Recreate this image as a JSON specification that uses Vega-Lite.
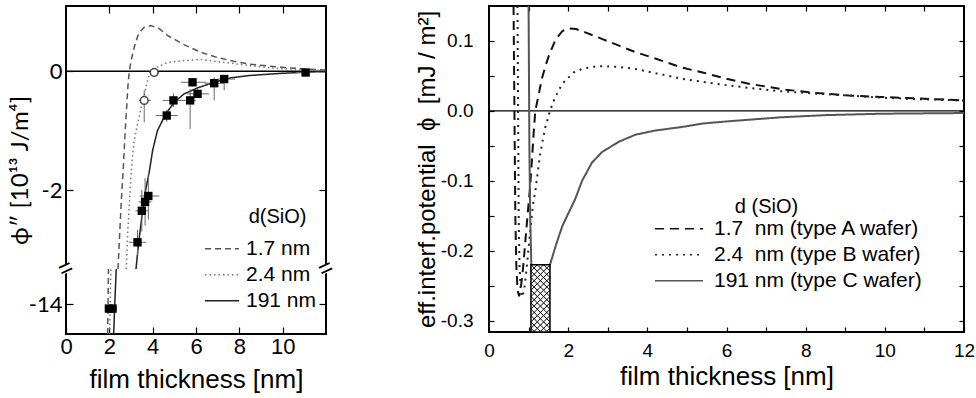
{
  "$schema": "https://vega.github.io/schema/vega-lite/v6.json",
  "background": "white",
  "padding": {"left": 7, "top": 4, "right": 4, "bottom": 0},
  "spacing": 75,
  "config": {
    "font": "Liberation Sans",
    "view": {"stroke": "black", "strokeWidth": 2},
    "axis": {"grid": false, "domain": false, "tickColor": "black", "tickWidth": 1.2, "labelColor": "black", "titleColor": "black", "titleFontWeight": "normal", "labelFlush": false, "labelOverlap": false, "labelFont": "Liberation Sans", "titleFont": "Liberation Sans"}
  },
  "resolve": {"scale": {"strokeDash": "independent", "color": "independent"}, "legend": {"strokeDash": "independent", "color": "independent"}},
  "datasets": {
    "leftCurves": [
      {"series": "1.7 nm", "part": "low", "x": 1.92, "y": -14.5},
      {"series": "1.7 nm", "part": "low", "x": 1.94, "y": -14.0},
      {"series": "1.7 nm", "part": "low", "x": 1.96, "y": -13.4},
      {"series": "1.7 nm", "part": "up", "x": 2.4, "y": -3.33},
      {"series": "1.7 nm", "part": "up", "x": 2.47, "y": -2.8},
      {"series": "1.7 nm", "part": "up", "x": 2.55, "y": -2.2},
      {"series": "1.7 nm", "part": "up", "x": 2.65, "y": -1.6},
      {"series": "1.7 nm", "part": "up", "x": 2.72, "y": -1.08},
      {"series": "1.7 nm", "part": "up", "x": 2.8, "y": -0.6},
      {"series": "1.7 nm", "part": "up", "x": 2.86, "y": -0.24},
      {"series": "1.7 nm", "part": "up", "x": 2.92, "y": 0.0},
      {"series": "1.7 nm", "part": "up", "x": 3.0, "y": 0.17},
      {"series": "1.7 nm", "part": "up", "x": 3.09, "y": 0.32},
      {"series": "1.7 nm", "part": "up", "x": 3.2, "y": 0.47},
      {"series": "1.7 nm", "part": "up", "x": 3.32, "y": 0.6},
      {"series": "1.7 nm", "part": "up", "x": 3.45, "y": 0.68},
      {"series": "1.7 nm", "part": "up", "x": 3.6, "y": 0.74},
      {"series": "1.7 nm", "part": "up", "x": 3.92, "y": 0.77},
      {"series": "1.7 nm", "part": "up", "x": 4.3, "y": 0.72},
      {"series": "1.7 nm", "part": "up", "x": 4.7, "y": 0.6},
      {"series": "1.7 nm", "part": "up", "x": 5.44, "y": 0.45},
      {"series": "1.7 nm", "part": "up", "x": 6.22, "y": 0.32},
      {"series": "1.7 nm", "part": "up", "x": 7.0, "y": 0.23},
      {"series": "1.7 nm", "part": "up", "x": 7.74, "y": 0.17},
      {"series": "1.7 nm", "part": "up", "x": 8.5, "y": 0.12},
      {"series": "1.7 nm", "part": "up", "x": 9.3, "y": 0.09},
      {"series": "1.7 nm", "part": "up", "x": 10.2, "y": 0.06},
      {"series": "1.7 nm", "part": "up", "x": 11.0, "y": 0.04},
      {"series": "1.7 nm", "part": "up", "x": 12.0, "y": 0.02},
      {"series": "2.4 nm", "part": "low", "x": 2.02, "y": -14.5},
      {"series": "2.4 nm", "part": "low", "x": 2.04, "y": -14.0},
      {"series": "2.4 nm", "part": "low", "x": 2.07, "y": -13.4},
      {"series": "2.4 nm", "part": "up", "x": 2.78, "y": -3.33},
      {"series": "2.4 nm", "part": "up", "x": 2.85, "y": -2.7},
      {"series": "2.4 nm", "part": "up", "x": 2.93, "y": -2.2},
      {"series": "2.4 nm", "part": "up", "x": 3.0, "y": -1.75},
      {"series": "2.4 nm", "part": "up", "x": 3.08, "y": -1.4},
      {"series": "2.4 nm", "part": "up", "x": 3.15, "y": -1.16},
      {"series": "2.4 nm", "part": "up", "x": 3.3, "y": -0.89},
      {"series": "2.4 nm", "part": "up", "x": 3.46, "y": -0.62},
      {"series": "2.4 nm", "part": "up", "x": 3.6, "y": -0.42},
      {"series": "2.4 nm", "part": "up", "x": 3.72, "y": -0.22},
      {"series": "2.4 nm", "part": "up", "x": 3.84, "y": -0.06},
      {"series": "2.4 nm", "part": "up", "x": 3.97, "y": 0.0},
      {"series": "2.4 nm", "part": "up", "x": 4.22, "y": 0.07},
      {"series": "2.4 nm", "part": "up", "x": 4.69, "y": 0.15},
      {"series": "2.4 nm", "part": "up", "x": 5.45, "y": 0.18},
      {"series": "2.4 nm", "part": "up", "x": 6.22, "y": 0.2},
      {"series": "2.4 nm", "part": "up", "x": 6.84, "y": 0.17},
      {"series": "2.4 nm", "part": "up", "x": 7.75, "y": 0.13},
      {"series": "2.4 nm", "part": "up", "x": 8.37, "y": 0.1},
      {"series": "2.4 nm", "part": "up", "x": 9.1, "y": 0.07},
      {"series": "2.4 nm", "part": "up", "x": 9.9, "y": 0.045},
      {"series": "2.4 nm", "part": "up", "x": 10.8, "y": 0.03},
      {"series": "2.4 nm", "part": "up", "x": 12.0, "y": 0.01},
      {"series": "191 nm", "part": "low", "x": 2.2, "y": -14.5},
      {"series": "191 nm", "part": "low", "x": 2.25, "y": -14.0},
      {"series": "191 nm", "part": "low", "x": 2.32, "y": -13.4},
      {"series": "191 nm", "part": "up", "x": 3.23, "y": -3.33},
      {"series": "191 nm", "part": "up", "x": 3.35, "y": -2.9},
      {"series": "191 nm", "part": "up", "x": 3.5, "y": -2.45},
      {"series": "191 nm", "part": "up", "x": 3.65, "y": -2.05},
      {"series": "191 nm", "part": "up", "x": 3.84, "y": -1.7},
      {"series": "191 nm", "part": "up", "x": 4.0, "y": -1.33},
      {"series": "191 nm", "part": "up", "x": 4.22, "y": -1.0},
      {"series": "191 nm", "part": "up", "x": 4.6, "y": -0.72},
      {"series": "191 nm", "part": "up", "x": 5.0, "y": -0.52},
      {"series": "191 nm", "part": "up", "x": 5.45, "y": -0.38},
      {"series": "191 nm", "part": "up", "x": 6.07, "y": -0.28},
      {"series": "191 nm", "part": "up", "x": 6.84, "y": -0.185},
      {"series": "191 nm", "part": "up", "x": 7.6, "y": -0.11},
      {"series": "191 nm", "part": "up", "x": 8.5, "y": -0.07},
      {"series": "191 nm", "part": "up", "x": 9.9, "y": -0.035},
      {"series": "191 nm", "part": "up", "x": 11.4, "y": -0.01},
      {"series": "191 nm", "part": "up", "x": 12.0, "y": -0.005}
    ],
    "leftPoints": [
      {"kind": "filled", "x": 1.98, "y": -14.07, "xlo": 1.8, "xhi": 2.1, "ylo": -14.07, "yhi": -14.07},
      {"kind": "filled", "x": 2.15, "y": -14.07, "xlo": 2.0, "xhi": 2.35, "ylo": -14.07, "yhi": -14.07},
      {"kind": "filled", "x": 3.3, "y": -2.88, "xlo": 2.9, "xhi": 3.7, "ylo": -3.1, "yhi": -2.67},
      {"kind": "filled", "x": 3.5, "y": -2.35, "xlo": 3.2, "xhi": 3.8, "ylo": -2.7, "yhi": -2.0},
      {"kind": "filled", "x": 3.65, "y": -2.2, "xlo": 3.35, "xhi": 3.95, "ylo": -2.6, "yhi": -1.8},
      {"kind": "filled", "x": 3.8, "y": -2.1, "xlo": 3.4, "xhi": 4.3, "ylo": -2.5, "yhi": -1.72},
      {"kind": "filled", "x": 4.65, "y": -0.745, "xlo": 4.15, "xhi": 5.15, "ylo": -0.85, "yhi": -0.65},
      {"kind": "filled", "x": 4.96, "y": -0.49, "xlo": 4.46, "xhi": 5.5, "ylo": -0.6, "yhi": -0.37},
      {"kind": "filled", "x": 5.73, "y": -0.49, "xlo": 5.5, "xhi": 6.0, "ylo": -0.97, "yhi": -0.3},
      {"kind": "filled", "x": 6.07, "y": -0.38, "xlo": 5.6, "xhi": 6.6, "ylo": -0.45, "yhi": -0.3},
      {"kind": "filled", "x": 5.84, "y": -0.185, "xlo": 5.3, "xhi": 6.45, "ylo": -0.25, "yhi": -0.12},
      {"kind": "filled", "x": 6.84, "y": -0.2, "xlo": 6.4, "xhi": 7.3, "ylo": -0.49, "yhi": -0.1},
      {"kind": "filled", "x": 7.3, "y": -0.13, "xlo": 7.0, "xhi": 7.8, "ylo": -0.32, "yhi": -0.08},
      {"kind": "filled", "x": 11.06, "y": -0.02, "xlo": 10.6, "xhi": 11.5, "ylo": -0.06, "yhi": 0.02},
      {"kind": "open", "x": 4.07, "y": -0.02, "xlo": 3.85, "xhi": 4.3, "ylo": -0.08, "yhi": 0.04},
      {"kind": "open", "x": 3.61, "y": -0.49, "xlo": 3.36, "xhi": 3.92, "ylo": -0.86, "yhi": -0.32}
    ],
    "rightCurves": [
      {"series": "1.7\u00a0 nm (type A wafer)", "x": 0.62, "y": 0.15},
      {"series": "1.7\u00a0 nm (type A wafer)", "x": 0.635, "y": 0.05},
      {"series": "1.7\u00a0 nm (type A wafer)", "x": 0.65, "y": -0.05},
      {"series": "1.7\u00a0 nm (type A wafer)", "x": 0.665, "y": -0.15},
      {"series": "1.7\u00a0 nm (type A wafer)", "x": 0.69, "y": -0.22},
      {"series": "1.7\u00a0 nm (type A wafer)", "x": 0.72, "y": -0.255},
      {"series": "1.7\u00a0 nm (type A wafer)", "x": 0.76, "y": -0.265},
      {"series": "1.7\u00a0 nm (type A wafer)", "x": 0.8, "y": -0.255},
      {"series": "1.7\u00a0 nm (type A wafer)", "x": 0.86, "y": -0.225},
      {"series": "1.7\u00a0 nm (type A wafer)", "x": 0.92, "y": -0.185},
      {"series": "1.7\u00a0 nm (type A wafer)", "x": 0.98, "y": -0.145},
      {"series": "1.7\u00a0 nm (type A wafer)", "x": 1.04, "y": -0.108},
      {"series": "1.7\u00a0 nm (type A wafer)", "x": 1.09, "y": -0.065},
      {"series": "1.7\u00a0 nm (type A wafer)", "x": 1.13, "y": -0.03},
      {"series": "1.7\u00a0 nm (type A wafer)", "x": 1.17, "y": 0.0},
      {"series": "1.7\u00a0 nm (type A wafer)", "x": 1.26, "y": 0.025},
      {"series": "1.7\u00a0 nm (type A wafer)", "x": 1.34, "y": 0.047},
      {"series": "1.7\u00a0 nm (type A wafer)", "x": 1.43, "y": 0.065},
      {"series": "1.7\u00a0 nm (type A wafer)", "x": 1.52, "y": 0.08},
      {"series": "1.7\u00a0 nm (type A wafer)", "x": 1.68, "y": 0.102},
      {"series": "1.7\u00a0 nm (type A wafer)", "x": 1.85, "y": 0.114},
      {"series": "1.7\u00a0 nm (type A wafer)", "x": 2.0, "y": 0.118},
      {"series": "1.7\u00a0 nm (type A wafer)", "x": 2.2, "y": 0.117},
      {"series": "1.7\u00a0 nm (type A wafer)", "x": 2.45, "y": 0.112},
      {"series": "1.7\u00a0 nm (type A wafer)", "x": 2.85, "y": 0.103},
      {"series": "1.7\u00a0 nm (type A wafer)", "x": 3.3, "y": 0.093},
      {"series": "1.7\u00a0 nm (type A wafer)", "x": 3.7, "y": 0.084},
      {"series": "1.7\u00a0 nm (type A wafer)", "x": 4.2, "y": 0.075},
      {"series": "1.7\u00a0 nm (type A wafer)", "x": 4.87, "y": 0.062},
      {"series": "1.7\u00a0 nm (type A wafer)", "x": 5.4, "y": 0.055},
      {"series": "1.7\u00a0 nm (type A wafer)", "x": 6.0, "y": 0.046},
      {"series": "1.7\u00a0 nm (type A wafer)", "x": 6.56, "y": 0.039},
      {"series": "1.7\u00a0 nm (type A wafer)", "x": 7.4, "y": 0.031},
      {"series": "1.7\u00a0 nm (type A wafer)", "x": 8.2, "y": 0.026},
      {"series": "1.7\u00a0 nm (type A wafer)", "x": 9.1, "y": 0.022},
      {"series": "1.7\u00a0 nm (type A wafer)", "x": 9.9, "y": 0.02},
      {"series": "1.7\u00a0 nm (type A wafer)", "x": 10.8, "y": 0.018},
      {"series": "1.7\u00a0 nm (type A wafer)", "x": 12.0, "y": 0.015},
      {"series": "2.4\u00a0 nm (type B wafer)", "x": 0.72, "y": 0.15},
      {"series": "2.4\u00a0 nm (type B wafer)", "x": 0.73, "y": 0.05},
      {"series": "2.4\u00a0 nm (type B wafer)", "x": 0.74, "y": -0.05},
      {"series": "2.4\u00a0 nm (type B wafer)", "x": 0.75, "y": -0.15},
      {"series": "2.4\u00a0 nm (type B wafer)", "x": 0.77, "y": -0.22},
      {"series": "2.4\u00a0 nm (type B wafer)", "x": 0.8, "y": -0.255},
      {"series": "2.4\u00a0 nm (type B wafer)", "x": 0.84, "y": -0.266},
      {"series": "2.4\u00a0 nm (type B wafer)", "x": 0.89, "y": -0.255},
      {"series": "2.4\u00a0 nm (type B wafer)", "x": 0.95, "y": -0.225},
      {"series": "2.4\u00a0 nm (type B wafer)", "x": 1.01, "y": -0.19},
      {"series": "2.4\u00a0 nm (type B wafer)", "x": 1.07, "y": -0.155},
      {"series": "2.4\u00a0 nm (type B wafer)", "x": 1.12, "y": -0.13},
      {"series": "2.4\u00a0 nm (type B wafer)", "x": 1.17, "y": -0.115},
      {"series": "2.4\u00a0 nm (type B wafer)", "x": 1.21, "y": -0.097},
      {"series": "2.4\u00a0 nm (type B wafer)", "x": 1.29, "y": -0.063},
      {"series": "2.4\u00a0 nm (type B wafer)", "x": 1.41, "y": -0.026},
      {"series": "2.4\u00a0 nm (type B wafer)", "x": 1.54, "y": 0.0},
      {"series": "2.4\u00a0 nm (type B wafer)", "x": 1.64, "y": 0.015},
      {"series": "2.4\u00a0 nm (type B wafer)", "x": 1.76, "y": 0.03},
      {"series": "2.4\u00a0 nm (type B wafer)", "x": 1.89, "y": 0.041},
      {"series": "2.4\u00a0 nm (type B wafer)", "x": 2.14, "y": 0.055},
      {"series": "2.4\u00a0 nm (type B wafer)", "x": 2.35, "y": 0.06},
      {"series": "2.4\u00a0 nm (type B wafer)", "x": 2.6, "y": 0.063},
      {"series": "2.4\u00a0 nm (type B wafer)", "x": 2.85, "y": 0.064},
      {"series": "2.4\u00a0 nm (type B wafer)", "x": 3.28, "y": 0.063},
      {"series": "2.4\u00a0 nm (type B wafer)", "x": 3.7, "y": 0.06},
      {"series": "2.4\u00a0 nm (type B wafer)", "x": 4.2, "y": 0.054},
      {"series": "2.4\u00a0 nm (type B wafer)", "x": 4.55, "y": 0.05},
      {"series": "2.4\u00a0 nm (type B wafer)", "x": 4.87, "y": 0.046},
      {"series": "2.4\u00a0 nm (type B wafer)", "x": 5.7, "y": 0.039},
      {"series": "2.4\u00a0 nm (type B wafer)", "x": 6.56, "y": 0.033},
      {"series": "2.4\u00a0 nm (type B wafer)", "x": 7.4, "y": 0.028},
      {"series": "2.4\u00a0 nm (type B wafer)", "x": 8.2, "y": 0.025},
      {"series": "2.4\u00a0 nm (type B wafer)", "x": 9.1, "y": 0.022},
      {"series": "2.4\u00a0 nm (type B wafer)", "x": 9.9, "y": 0.019},
      {"series": "2.4\u00a0 nm (type B wafer)", "x": 10.8, "y": 0.017},
      {"series": "2.4\u00a0 nm (type B wafer)", "x": 12.0, "y": 0.015},
      {"series": "191 nm (type C wafer)", "x": 1.0, "y": 0.15},
      {"series": "191 nm (type C wafer)", "x": 1.01, "y": 0.05},
      {"series": "191 nm (type C wafer)", "x": 1.02, "y": -0.05},
      {"series": "191 nm (type C wafer)", "x": 1.04, "y": -0.15},
      {"series": "191 nm (type C wafer)", "x": 1.07, "y": -0.22},
      {"series": "191 nm (type C wafer)", "x": 1.12, "y": -0.27},
      {"series": "191 nm (type C wafer)", "x": 1.2, "y": -0.29},
      {"series": "191 nm (type C wafer)", "x": 1.3, "y": -0.285},
      {"series": "191 nm (type C wafer)", "x": 1.42, "y": -0.255},
      {"series": "191 nm (type C wafer)", "x": 1.54, "y": -0.22},
      {"series": "191 nm (type C wafer)", "x": 1.7, "y": -0.19},
      {"series": "191 nm (type C wafer)", "x": 1.85, "y": -0.165},
      {"series": "191 nm (type C wafer)", "x": 2.0, "y": -0.147},
      {"series": "191 nm (type C wafer)", "x": 2.17, "y": -0.127},
      {"series": "191 nm (type C wafer)", "x": 2.35, "y": -0.1},
      {"series": "191 nm (type C wafer)", "x": 2.6, "y": -0.074},
      {"series": "191 nm (type C wafer)", "x": 2.85, "y": -0.059},
      {"series": "191 nm (type C wafer)", "x": 3.28, "y": -0.044},
      {"series": "191 nm (type C wafer)", "x": 3.7, "y": -0.034},
      {"series": "191 nm (type C wafer)", "x": 4.2, "y": -0.028},
      {"series": "191 nm (type C wafer)", "x": 4.87, "y": -0.023},
      {"series": "191 nm (type C wafer)", "x": 5.4, "y": -0.018},
      {"series": "191 nm (type C wafer)", "x": 6.0, "y": -0.015},
      {"series": "191 nm (type C wafer)", "x": 7.4, "y": -0.009},
      {"series": "191 nm (type C wafer)", "x": 8.5, "y": -0.006},
      {"series": "191 nm (type C wafer)", "x": 9.9, "y": -0.004},
      {"series": "191 nm (type C wafer)", "x": 12.0, "y": -0.003}
    ],
    "hatch": [
      {"x": 1.14, "y": -0.2245}, {"x": 1.30, "y": -0.2245}, {"x": 1.46, "y": -0.2245},
      {"x": 1.14, "y": -0.2336}, {"x": 1.30, "y": -0.2336}, {"x": 1.46, "y": -0.2336},
      {"x": 1.14, "y": -0.2427}, {"x": 1.30, "y": -0.2427}, {"x": 1.46, "y": -0.2427},
      {"x": 1.14, "y": -0.2517}, {"x": 1.30, "y": -0.2517}, {"x": 1.46, "y": -0.2517},
      {"x": 1.14, "y": -0.2608}, {"x": 1.30, "y": -0.2608}, {"x": 1.46, "y": -0.2608},
      {"x": 1.14, "y": -0.2698}, {"x": 1.30, "y": -0.2698}, {"x": 1.46, "y": -0.2698},
      {"x": 1.14, "y": -0.2789}, {"x": 1.30, "y": -0.2789}, {"x": 1.46, "y": -0.2789},
      {"x": 1.14, "y": -0.2880}, {"x": 1.30, "y": -0.2880}, {"x": 1.46, "y": -0.2880},
      {"x": 1.14, "y": -0.2970}, {"x": 1.30, "y": -0.2970}, {"x": 1.46, "y": -0.2970},
      {"x": 1.14, "y": -0.3061}, {"x": 1.30, "y": -0.3061}, {"x": 1.46, "y": -0.3061},
      {"x": 1.14, "y": -0.3151}, {"x": 1.30, "y": -0.3151}, {"x": 1.46, "y": -0.3151}
    ]
  },
  "hconcat": [
    {
      "width": 260,
      "height": 328,
      "resolve": {"axis": {"x": "independent", "y": "independent"}},
      "layer": [
        {
          "data": {"values": [{}]},
          "mark": {"type": "rule", "color": "black", "strokeWidth": 1.5},
          "encoding": {
            "y": {"datum": 0, "type": "quantitative", "scale": {"domain": [-14.5, -13.4, -3.33, 1.1], "range": [328, 263, 263, 0], "nice": false, "zero": false}, "axis": null}
          }
        },
        {
          "data": {"name": "leftCurves"},
          "mark": {"type": "line", "clip": true, "strokeWidth": 1.5},
          "encoding": {
            "x": {"field": "x", "type": "quantitative", "scale": {"domain": [0, 12], "nice": false, "zero": false},
              "axis": {"orient": "bottom", "values": [0, 2, 4, 6, 8, 10], "labelFontSize": 22, "tickSize": -7, "labelPadding": 9, "title": "film thickness [nm]", "titleFontSize": 26, "titlePadding": 9}},
            "y": {"field": "y", "type": "quantitative", "scale": {"domain": [-14.5, -13.4, -3.33, 1.1], "range": [328, 263, 263, 0], "nice": false, "zero": false},
              "axis": {"orient": "left", "values": [0, -2, -14], "labelExpr": "datum.value == 0 ? '0' : '-' + abs(datum.value)", "labelFont": "Lato", "labelFontSize": 22, "tickSize": -7, "labelPadding": 11, "title": "ϕ″ [10¹³ J/m⁴]", "titleFont": "Lato", "titleFontSize": 24, "titleX": -46, "titleY": 164, "titleAngle": -90, "titleAlign": "center", "titleBaseline": "middle"}},
            "strokeDash": {"field": "series", "type": "nominal", "scale": {"domain": ["1.7 nm", "2.4 nm", "191 nm"], "range": [[6, 4], [1.5, 3], [1, 0]]},
              "legend": {"orient": "none", "legendX": 138, "legendY": 230, "title": null, "symbolType": "stroke", "symbolSize": 1156, "symbolStrokeWidth": 1.5, "labelFontSize": 21, "labelOffset": 6, "rowPadding": 0, "clipHeight": 25.5, "labelLimit": 0}},
            "color": {"field": "series", "type": "nominal", "scale": {"domain": ["1.7 nm", "2.4 nm", "191 nm"], "range": ["#555555", "#777777", "#222222"]},
              "legend": {"orient": "none", "legendX": 138, "legendY": 230, "title": null, "symbolType": "stroke", "symbolSize": 1156, "symbolStrokeWidth": 1.5, "labelFontSize": 21, "labelOffset": 6, "rowPadding": 0, "clipHeight": 25.5, "labelLimit": 0}},
            "detail": {"field": "part"}
          }
        },
        {
          "data": {"name": "leftPoints"},
          "mark": {"type": "rule", "color": "#666666", "strokeWidth": 1},
          "encoding": {
            "x": {"field": "xlo", "type": "quantitative", "scale": {"domain": [0, 12], "nice": false, "zero": false}, "axis": null},
            "x2": {"field": "xhi"},
            "y": {"field": "y", "type": "quantitative", "scale": {"domain": [-14.5, -13.4, -3.33, 1.1], "range": [328, 263, 263, 0], "nice": false, "zero": false}, "axis": null}
          }
        },
        {
          "data": {"name": "leftPoints"},
          "mark": {"type": "rule", "color": "#666666", "strokeWidth": 1},
          "encoding": {
            "x": {"field": "x", "type": "quantitative", "scale": {"domain": [0, 12], "nice": false, "zero": false}, "axis": null},
            "y": {"field": "ylo", "type": "quantitative", "scale": {"domain": [-14.5, -13.4, -3.33, 1.1], "range": [328, 263, 263, 0], "nice": false, "zero": false}, "axis": null},
            "y2": {"field": "yhi"}
          }
        },
        {
          "data": {"name": "leftPoints"},
          "transform": [{"filter": "datum.kind == 'filled'"}],
          "mark": {"type": "point", "shape": "square", "filled": true, "color": "black", "size": 70, "opacity": 1},
          "encoding": {
            "x": {"field": "x", "type": "quantitative", "scale": {"domain": [0, 12], "nice": false, "zero": false},
              "axis": {"orient": "top", "values": [2, 4, 6, 8, 10], "labels": false, "tickSize": -7, "title": null}},
            "y": {"field": "y", "type": "quantitative", "scale": {"domain": [-14.5, -13.4, -3.33, 1.1], "range": [328, 263, 263, 0], "nice": false, "zero": false},
              "axis": {"orient": "right", "values": [0, -2, -14], "labels": false, "tickSize": -7, "title": null}}
          }
        },
        {
          "data": {"name": "leftPoints"},
          "transform": [{"filter": "datum.kind == 'open'"}],
          "mark": {"type": "point", "shape": "circle", "filled": false, "fill": "white", "fillOpacity": 1, "stroke": "#444444", "strokeWidth": 1.5, "size": 60},
          "encoding": {
            "x": {"field": "x", "type": "quantitative", "scale": {"domain": [0, 12], "nice": false, "zero": false}, "axis": null},
            "y": {"field": "y", "type": "quantitative", "scale": {"domain": [-14.5, -13.4, -3.33, 1.1], "range": [328, 263, 263, 0], "nice": false, "zero": false}, "axis": null}
          }
        },
        {
          "data": {"values": [{"edge": 0}, {"edge": 12}]},
          "mark": {"type": "point", "shape": "square", "filled": true, "color": "white", "opacity": 1, "size": 60, "angle": -25},
          "encoding": {
            "x": {"field": "edge", "type": "quantitative", "scale": {"domain": [0, 12], "nice": false, "zero": false}, "axis": null},
            "y": {"datum": -8, "type": "quantitative", "scale": {"domain": [-14.5, -13.4, -3.33, 1.1], "range": [328, 263, 263, 0], "nice": false, "zero": false}, "axis": null}
          }
        },
        {
          "data": {"values": [{"edge": 0}, {"edge": 12}]},
          "mark": {"type": "text", "text": "=", "fontSize": 24, "angle": -25, "align": "center", "baseline": "middle", "color": "black"},
          "encoding": {
            "x": {"field": "edge", "type": "quantitative", "scale": {"domain": [0, 12], "nice": false, "zero": false}, "axis": null},
            "y": {"datum": -8, "type": "quantitative", "scale": {"domain": [-14.5, -13.4, -3.33, 1.1], "range": [328, 263, 263, 0], "nice": false, "zero": false}, "axis": null}
          }
        },
        {
          "data": {"values": [{}]},
          "mark": {"type": "text", "text": "d(SiO)", "fontSize": 20, "align": "left", "baseline": "middle", "color": "black"},
          "encoding": {
            "x": {"datum": 8.43, "type": "quantitative", "scale": {"domain": [0, 12], "nice": false, "zero": false}, "axis": null},
            "y": {"datum": -2.45, "type": "quantitative", "scale": {"domain": [-14.5, -13.4, -3.33, 1.1], "range": [328, 263, 263, 0], "nice": false, "zero": false}, "axis": null}
          }
        }
      ]
    },
    {
      "width": 475,
      "height": 326,
      "resolve": {"axis": {"x": "independent", "y": "independent"}},
      "layer": [
        {
          "data": {"values": [{}]},
          "mark": {"type": "rule", "color": "black", "strokeWidth": 1.2},
          "encoding": {
            "y": {"datum": 0, "type": "quantitative", "scale": {"domain": [-0.316, 0.15], "nice": false, "zero": false}, "axis": null}
          }
        },
        {
          "data": {"name": "rightCurves"},
          "mark": {"type": "line", "clip": true, "strokeWidth": 2},
          "encoding": {
            "x": {"field": "x", "type": "quantitative", "scale": {"domain": [0, 12], "nice": false, "zero": false},
              "axis": {"orient": "bottom", "values": [0, 1, 2, 3, 4, 5, 6, 7, 8, 9, 10, 11, 12], "labelExpr": "datum.value % 2 == 0 ? datum.label : ''", "labelFontSize": 19, "tickSize": -5, "labelPadding": 14, "title": "film thickness [nm]", "titleFontSize": 26, "titlePadding": 3}},
            "y": {"field": "y", "type": "quantitative", "scale": {"domain": [-0.316, 0.15], "nice": false, "zero": false},
              "axis": {"orient": "left", "values": [-0.3, -0.25, -0.2, -0.15, -0.1, -0.05, 0, 0.05, 0.1], "labelExpr": "abs(datum.value * 10 - round(datum.value * 10)) < 0.001 ? replace(format(datum.value, '.1f'), '−', '-') : ''", "labelFontSize": 19, "tickSize": -5, "labelPadding": 21, "title": "eff.interf.potential \u00a0ϕ\u00a0 [mJ / m²]", "titleFontSize": 24, "titleX": -62, "titleY": 163, "titleAngle": -90, "titleAlign": "center", "titleBaseline": "middle"}},
            "strokeDash": {"field": "series", "type": "nominal", "scale": {"domain": ["1.7\u00a0 nm (type A wafer)", "2.4\u00a0 nm (type B wafer)", "191 nm (type C wafer)"], "range": [[9, 6], [2, 5], [1, 0]]},
              "legend": {"orient": "none", "legendX": 165, "legendY": 210, "title": null, "symbolType": "stroke", "symbolSize": 2304, "symbolStrokeWidth": 1.5, "labelFontSize": 21, "labelOffset": 10, "rowPadding": 0, "clipHeight": 25.5, "labelLimit": 0}},
            "color": {"field": "series", "type": "nominal", "scale": {"domain": ["1.7\u00a0 nm (type A wafer)", "2.4\u00a0 nm (type B wafer)", "191 nm (type C wafer)"], "range": ["#111111", "#222222", "#555555"]},
              "legend": {"orient": "none", "legendX": 165, "legendY": 210, "title": null, "symbolType": "stroke", "symbolSize": 2304, "symbolStrokeWidth": 1.5, "labelFontSize": 21, "labelOffset": 10, "rowPadding": 0, "clipHeight": 25.5, "labelLimit": 0}}
          }
        },
        {
          "data": {"values": [{}]},
          "mark": {"type": "rect", "fill": "white", "stroke": "black", "strokeWidth": 1.5},
          "encoding": {
            "x": {"datum": 1.06, "type": "quantitative", "scale": {"domain": [0, 12], "nice": false, "zero": false}, "axis": null},
            "x2": {"datum": 1.54},
            "y": {"datum": -0.22, "type": "quantitative", "scale": {"domain": [-0.316, 0.15], "nice": false, "zero": false}, "axis": null},
            "y2": {"datum": -0.316}
          }
        },
        {
          "data": {"name": "hatch"},
          "mark": {"type": "point", "shape": "M-1,-1L1,1M-1,1L1,-1", "filled": false, "stroke": "black", "strokeWidth": 1, "size": 40, "opacity": 1, "clip": true},
          "encoding": {
            "x": {"field": "x", "type": "quantitative", "scale": {"domain": [0, 12], "nice": false, "zero": false},
              "axis": {"orient": "top", "values": [1, 2, 3, 4, 5, 6, 7, 8, 9, 10, 11], "labels": false, "tickSize": -5, "title": null}},
            "y": {"field": "y", "type": "quantitative", "scale": {"domain": [-0.316, 0.15], "nice": false, "zero": false},
              "axis": {"orient": "right", "values": [-0.3, -0.25, -0.2, -0.15, -0.1, -0.05, 0, 0.05, 0.1], "labels": false, "tickSize": -5, "title": null}}
          }
        },
        {
          "data": {"values": [{}]},
          "mark": {"type": "text", "text": "d (SiO)", "fontSize": 20, "align": "left", "baseline": "middle", "color": "black"},
          "encoding": {
            "x": {"datum": 6.21, "type": "quantitative", "scale": {"domain": [0, 12], "nice": false, "zero": false}, "axis": null},
            "y": {"datum": -0.137, "type": "quantitative", "scale": {"domain": [-0.316, 0.15], "nice": false, "zero": false}, "axis": null}
          }
        }
      ]
    }
  ]
}
